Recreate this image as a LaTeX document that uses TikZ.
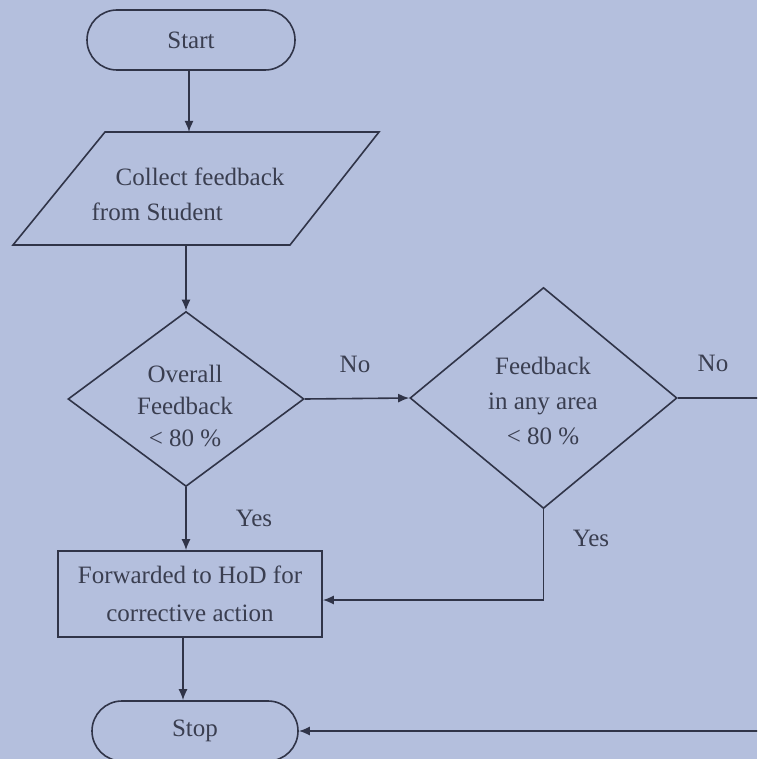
\documentclass[tikz,border=0pt]{standalone}
\usepackage{fontspec}
\setmainfont{Liberation Serif}
\usetikzlibrary{arrows.meta,shapes.geometric}
\definecolor{bg}{RGB}{180,191,221}
\definecolor{ln}{RGB}{48,52,72}
\definecolor{tx}{RGB}{58,62,80}
\begin{document}
\begin{tikzpicture}[x=1pt,y=-1pt,
  every node/.style={font=\fontsize{25}{35}\selectfont, text=tx},
  flow/.style={draw=ln, line width=1.6pt},
  arr/.style={draw=ln, line width=1.6pt, -{Latex[length=11pt,width=9pt]}},
  term/.style={draw=ln, line width=1.6pt, rectangle, rounded corners=30pt, minimum height=60pt, inner sep=0pt},
  dia/.style={draw=ln, line width=1.6pt, diamond, inner sep=0pt},
  procbox/.style={draw=ln, line width=1.6pt, rectangle, minimum width=264pt, minimum height=86pt, inner sep=0pt},
  txt/.style={align=center, inner sep=0pt},
]
\clip (0,0) rectangle (757,759);
\fill[bg] (0,0) rectangle (757,759);

% Start
\node[term, minimum width=208pt] (start) at (191,40) {Start};

% Parallelogram (input)
\draw[flow, line join=miter] (105,132) -- (379,132) -- (290,245) -- (13,245) -- cycle;
\coordinate (ptop) at (189,132);
\coordinate (pbot) at (186,245);
\node[align=left, inner sep=0pt] (collect) at (188,194) {\hspace*{24pt}Collect feedback\\from Student};

% Decision 1
\node[dia, minimum width=236pt, minimum height=175pt] (d1) at (186,399) {};
\node[txt, font=\fontsize{25}{32}\selectfont] (d1t) at (185,406) {Overall\\Feedback\\< 80 \%};

% Decision 2
\node[dia, minimum width=267pt, minimum height=221pt] (d2) at (543.5,398) {};
\node[txt, font=\fontsize{25}{35}\selectfont] (d2t) at (543,401) {Feedback\\in any area\\< 80 \%};

% Process box
\node[procbox, font=\fontsize{25}{38}\selectfont, align=center] (box) at (190,594) {Forwarded to HoD for\\corrective action};

% Stop
\node[term, minimum width=206pt] (stop) at (195,731) {Stop};

% Labels
\node[inner sep=0pt] (no1) at (355,364) {No};
\node[inner sep=0pt] (no2) at (713,363) {No};
\node[inner sep=0pt] (yes1) at (254,518) {Yes};
\node[inner sep=0pt] (yes2) at (591,538) {Yes};

% Connectors
\draw[arr] (start.south -| ptop) -- (ptop);
\draw[arr] (pbot) -- (pbot |- d1.north);
\draw[arr] (d1.east) -- (d2.west);
\draw[arr] (d1.south) -- (d1.south |- box.north);
\draw[arr] (d2.south) |- ([yshift=-6pt]box.east);
\draw[arr] ([xshift=-7pt]box.south) -- ([xshift=-7pt]box.south |- stop.north);
\draw[arr] (d2.east) -- (800,398) |- (stop.east);
\end{tikzpicture}
\end{document}
